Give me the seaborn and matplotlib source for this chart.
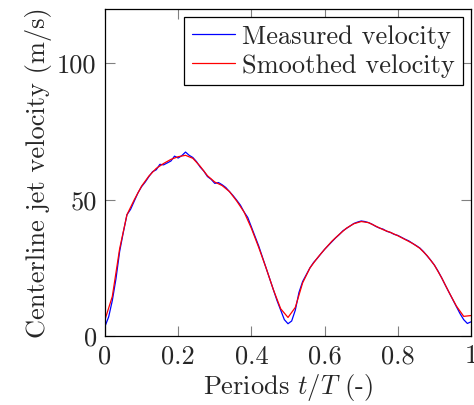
import numpy as np
import pandas as pd
import matplotlib
matplotlib.use("Agg")
import matplotlib.pyplot as plt
import seaborn as sns

# --- datos ---
t_measured = [round(0.01 * i, 2) for i in range(101)]
v_measured = [3.5, 7, 13, 21, 31, 38, 44.5, 46.5, 49.5, 52.5,
              54.8, 56.5, 58.5, 60.3, 61, 63, 62.8, 63.5, 64.2, 66,
              65.3, 66.2, 67.5, 66.3, 65.5, 64, 62, 60.5, 58.5, 57.5,
              56, 56.3, 55.5, 54.5, 53, 51.5, 49.8, 48, 45.5, 43.5,
              40, 36.5, 33, 29, 25, 21, 17, 13, 9.5, 6,
              4.5, 5.5, 9.5, 16, 20, 22.5, 25, 27, 28.5, 30.2,
              31.8, 33.2, 34.6, 36, 37.2, 38.6, 39.5, 40.4, 41.3, 41.8,
              42.2, 42, 41.6, 41, 40.2, 39.6, 39.2, 38.4, 38, 37.3,
              36.9, 36.2, 35.5, 34.9, 34, 33.2, 32.3, 31, 29.4, 27.8,
              26, 23.8, 21.3, 18.6, 16, 13.4, 10.8, 8.2, 6, 4.6,
              5.2]

t_smoothed = [round(0.02 * i, 2) for i in range(51)]
v_smoothed = [6.0, 14.5, 32, 44.5, 50, 55, 58.7, 61.5, 63.3, 64.8,
              65.8, 66.3, 65.2, 62.3, 58.8, 56.5, 55.2, 53, 49.5, 45.5,
              39.5, 32.5, 25, 17, 10, 6.8, 10.5, 19.5, 25, 28.6,
              31.8, 34.8, 37.3, 39.6, 41.2, 42.0, 41.6, 40.3, 39.0, 38.0,
              36.8, 35.4, 34.0, 32.2, 29.5, 26.0, 21.3, 16.0, 11.0, 7.2,
              7.5]

df_meas = pd.DataFrame({"t": t_measured, "v": v_measured})
df_smooth = pd.DataFrame({"t": t_smoothed, "v": v_smoothed})

sns.set_style("ticks")
plt.rcParams["font.family"] = ["cmr10", "DejaVu Serif"]
plt.rcParams["mathtext.fontset"] = "cm"
plt.rcParams["axes.formatter.use_mathtext"] = True
plt.rcParams["font.size"] = 19

fig = plt.figure(figsize=(4.74, 4.05), dpi=100)
ax = fig.add_axes([0.2215, 0.1704, 0.7722, 0.8074])

sns.lineplot(data=df_meas, x="t", y="v", color=(0, 0, 1), lw=0.9,
             label="Measured velocity", ax=ax)
sns.lineplot(data=df_smooth, x="t", y="v", color=(1, 0, 0), lw=0.9,
             label="Smoothed velocity", ax=ax)

ax.set_xlim(0, 1)
ax.set_ylim(0, 120)
ax.set_xticks([0, 0.2, 0.4, 0.6, 0.8, 1])
ax.set_xticklabels(["0", "0.2", "0.4", "0.6", "0.8", "1"])
ax.set_yticks([0, 50, 100])
ax.set_yticklabels(["0", "50", "100"])
ax.tick_params(direction="in", length=7, width=0.8, color="#808080",
               top=True, right=True, labelsize=19, pad=6)
for s in ax.spines.values():
    s.set_color("black")
    s.set_linewidth(0.9)

ax.set_xlabel(r"Periods $t/T$ (-)", fontsize=19, labelpad=3)
ax.set_ylabel("Centerline jet velocity (m/s)", fontsize=19, labelpad=4)

leg = ax.legend(loc="upper right", fontsize=19, frameon=True, fancybox=False,
                framealpha=1, edgecolor="black", handlelength=1.6,
                handletextpad=0.3, borderpad=0.3, labelspacing=0.2,
                borderaxespad=0.3)
leg.get_frame().set_linewidth(0.9)

fig.savefig("out.png", dpi=100)
